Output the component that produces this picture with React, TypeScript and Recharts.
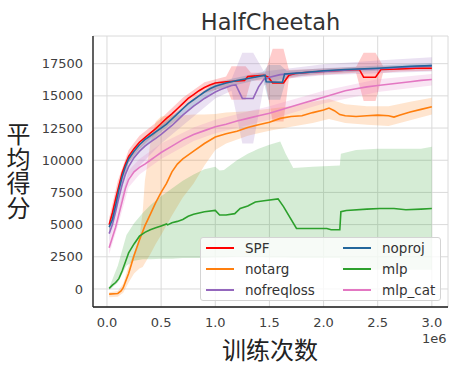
import { ComposedChart, Line, Area, XAxis, YAxis, CartesianGrid } from 'recharts'

// x values are in units of 1e6 steps
const xTicks = [0, 0.5, 1.0, 1.5, 2.0, 2.5, 3.0]
const yTicks = [0, 2500, 5000, 7500, 10000, 12500, 15000, 17500]

const spfX = [0.02, 0.05, 0.08, 0.11, 0.14, 0.17, 0.2, 0.25, 0.3, 0.35, 0.4, 0.45, 0.5, 0.55, 0.6, 0.65, 0.7, 0.75, 0.8, 0.85, 0.9, 0.95, 1.0, 1.1, 1.2, 1.27, 1.3, 1.45, 1.49, 1.53, 1.63, 1.68, 1.75, 1.9, 2.1, 2.33, 2.37, 2.48, 2.53, 2.7, 2.85, 3.0]
const spfY = [5000, 5900, 7000, 8000, 9000, 9700, 10300, 10900, 11400, 11750, 12100, 12450, 12850, 13250, 13600, 14000, 14400, 14800, 15100, 15400, 15650, 15850, 16000, 16100, 16150, 16200, 16500, 16600, 16450, 16000, 16000, 16600, 16750, 16850, 16950, 17050, 16450, 16450, 17050, 17100, 17150, 17150]
const spfBandX = [0.02, 0.1, 0.2, 0.3, 0.5, 0.7, 0.9, 1.1, 1.15, 1.28, 1.33, 1.46, 1.53, 1.63, 1.68, 1.8, 2.3, 2.37, 2.48, 2.55, 2.7, 3.0]
const spfLo = [4500, 7400, 9800, 10900, 12450, 13950, 15200, 15700, 14700, 14700, 16200, 16200, 13000, 13000, 16350, 16550, 16800, 14600, 14600, 16800, 16900, 16950]
const spfHi = [5500, 8400, 10800, 11900, 13250, 14850, 16050, 16500, 17300, 17300, 16800, 16800, 18650, 18650, 17000, 17050, 17250, 18350, 18350, 17300, 17300, 17350]

const notargX = [0.02, 0.1, 0.13, 0.15, 0.2, 0.25, 0.3, 0.35, 0.4, 0.45, 0.5, 0.55, 0.6, 0.65, 0.7, 0.8, 0.9, 1.0, 1.1, 1.2, 1.3, 1.4, 1.5, 1.6, 1.7, 1.8, 1.9, 2.0, 2.05, 2.1, 2.15, 2.2, 2.3, 2.4, 2.5, 2.6, 2.65, 2.7, 2.8, 2.9, 3.0]
const notargY = [-400, -350, -150, 100, 1200, 2600, 3800, 4900, 5800, 6700, 7500, 8200, 9100, 9700, 10100, 10700, 11300, 11800, 12050, 12250, 12550, 12750, 12950, 13250, 13400, 13450, 13700, 13900, 14050, 13850, 13550, 13450, 13400, 13450, 13500, 13450, 13350, 13500, 13750, 13950, 14150]
const notargBandX = [0.02, 0.1, 0.15, 0.2, 0.25, 0.3, 0.33, 0.35, 0.4, 0.45, 0.5, 0.6, 0.7, 0.8, 0.9, 1.0, 1.1, 1.3, 1.5, 1.7, 1.9, 2.05, 2.2, 2.4, 2.6, 2.8, 3.0]
const notargLo = [-650, -600, -300, 500, 1200, 1600, 1700, 2000, 2700, 3500, 4200, 5700, 7100, 8200, 9600, 10800, 11300, 11900, 12300, 12600, 12900, 13200, 12900, 12750, 12650, 13100, 13550]
const notargHi = [-250, -150, 400, 1800, 2800, 4000, 6000, 8400, 11300, 13000, 13400, 13500, 13500, 13550, 13550, 13600, 13700, 13800, 14000, 14200, 14550, 14750, 14350, 14200, 14200, 14550, 14850]

const nofreqX = [0.02, 0.05, 0.08, 0.11, 0.14, 0.17, 0.2, 0.25, 0.3, 0.35, 0.4, 0.45, 0.5, 0.55, 0.6, 0.65, 0.7, 0.75, 0.8, 0.85, 0.9, 0.95, 1.0, 1.05, 1.1, 1.15, 1.19, 1.25, 1.35, 1.4, 1.45, 1.5, 1.6, 1.8, 2.0, 2.3, 2.6, 3.0]
const nofreqY = [4300, 5000, 6000, 7100, 8100, 8900, 9500, 10200, 10700, 11100, 11400, 11700, 12000, 12350, 12700, 13100, 13500, 13850, 14200, 14500, 14800, 15050, 15300, 15500, 15650, 15800, 15850, 14800, 14800, 15700, 16300, 16450, 16650, 16800, 16900, 17050, 17150, 17350]
const nofreqBandX = [0.02, 0.2, 0.5, 1.0, 1.15, 1.25, 1.35, 1.45, 1.6, 2.0, 2.5, 3.0]
const nofreqLo = [3700, 8700, 11300, 14800, 15400, 11300, 11300, 15800, 16300, 16600, 16750, 16900]
const nofreqHi = [4900, 10200, 12700, 15800, 16300, 18350, 18350, 16900, 17050, 17450, 17750, 18000]

const noprojX = [0.02, 0.05, 0.08, 0.11, 0.14, 0.17, 0.2, 0.25, 0.3, 0.35, 0.4, 0.45, 0.5, 0.55, 0.6, 0.65, 0.7, 0.75, 0.8, 0.85, 0.9, 0.95, 1.0, 1.1, 1.2, 1.3, 1.4, 1.46, 1.47, 1.62, 1.64, 1.8, 2.0, 2.2, 2.5, 2.8, 3.0]
const noprojY = [4800, 5400, 6500, 7700, 8700, 9500, 10100, 10700, 11200, 11600, 11900, 12200, 12500, 12800, 13200, 13600, 14000, 14400, 14700, 15000, 15300, 15550, 15750, 16000, 16200, 16350, 16500, 16600, 16100, 16050, 16700, 16800, 16950, 17050, 17150, 17300, 17350]
const noprojBandX = [0.02, 0.2, 0.5, 1.0, 1.44, 1.49, 1.6, 1.66, 2.0, 3.0]
const noprojLo = [4400, 9800, 12200, 15450, 16350, 14700, 14700, 16450, 16750, 17150]
const noprojHi = [5200, 10400, 12800, 16050, 16850, 17400, 17400, 16950, 17150, 17550]

const mlpX = [0.02, 0.05, 0.08, 0.11, 0.14, 0.17, 0.2, 0.25, 0.3, 0.35, 0.4, 0.45, 0.5, 0.55, 0.56, 0.6, 0.65, 0.7, 0.75, 0.8, 0.9, 1.0, 1.04, 1.1, 1.18, 1.23, 1.3, 1.37, 1.45, 1.58, 1.63, 1.75, 1.9, 2.03, 2.07, 2.15, 2.16, 2.21, 2.4, 2.52, 2.65, 2.76, 2.9, 3.0]
const mlpY = [50, 300, 500, 800, 1400, 2100, 2800, 3500, 4100, 4400, 4600, 4750, 4900, 5050, 4980, 5150, 5250, 5400, 5650, 5800, 6000, 6100, 5750, 5750, 5850, 6250, 6450, 6750, 6850, 7000, 6400, 4700, 4700, 4700, 4600, 4600, 6000, 6100, 6200, 6250, 6250, 6150, 6200, 6250]
const mlpBandX = [0.02, 0.1, 0.18, 0.25, 0.33, 0.4, 0.5, 0.6, 0.7, 0.8, 0.9, 1.0, 1.04, 1.08, 1.2, 1.3, 1.4, 1.5, 1.6, 1.65, 1.72, 1.9, 2.15, 2.16, 2.3, 2.5, 2.7, 2.9, 3.0]
const mlpLo = [-100, 500, 1800, 2200, 2300, 2300, 2350, 2350, 2400, 2400, 2400, 2450, 2450, 2450, 2500, 2500, 2500, 2450, 2450, 2450, 2400, 2400, 2400, 1500, 1500, 1500, 1500, 1500, 1500]
const mlpHi = [100, 1800, 4200, 5100, 5900, 6500, 7200, 7800, 8400, 8900, 9300, 9500, 9200, 9250, 10000, 10500, 10900, 11200, 11450, 10500, 9400, 9500, 9600, 10500, 10800, 10900, 10900, 10900, 11050]

const mlpCatX = [0.02, 0.05, 0.08, 0.11, 0.14, 0.17, 0.2, 0.25, 0.3, 0.35, 0.4, 0.45, 0.5, 0.6, 0.7, 0.8, 0.9, 1.0, 1.1, 1.2, 1.3, 1.4, 1.5, 1.6, 1.7, 1.8, 1.9, 2.0, 2.1, 2.2, 2.3, 2.4, 2.5, 2.6, 2.7, 2.8, 2.9, 3.0]
const mlpCatY = [3200, 4000, 4800, 5800, 6800, 7800, 8500, 9100, 9450, 9700, 10000, 10300, 10600, 11100, 11600, 12000, 12300, 12600, 12800, 13050, 13250, 13450, 13650, 13900, 14150, 14400, 14650, 14900, 15150, 15400, 15550, 15700, 15800, 15900, 16000, 16100, 16200, 16270]
const mlpCatBandX = [0.02, 0.1, 0.2, 0.3, 0.5, 0.8, 1.0, 1.5, 2.0, 2.5, 3.0]
const mlpCatLo = [2700, 4900, 7900, 8900, 10100, 11500, 12100, 13150, 14400, 15300, 15800]
const mlpCatHi = [3700, 6000, 9200, 10100, 11300, 12550, 13150, 14200, 15400, 16300, 16700]

const toPts = (xs: number[], ys: number[]) => xs.map((x, i) => ({ x, y: ys[i] }))
const toBand = (xs: number[], lo: number[], hi: number[]) => xs.map((x, i) => ({ x, band: [lo[i], hi[i]] }))

const series = [
  { name: 'SPF', color: '#ff0000', line: toPts(spfX, spfY), band: toBand(spfBandX, spfLo, spfHi) },
  { name: 'notarg', color: '#ff7f0e', line: toPts(notargX, notargY), band: toBand(notargBandX, notargLo, notargHi) },
  { name: 'nofreqloss', color: '#9467bd', line: toPts(nofreqX, nofreqY), band: toBand(nofreqBandX, nofreqLo, nofreqHi) },
  { name: 'noproj', color: '#24679c', line: toPts(noprojX, noprojY), band: toBand(noprojBandX, noprojLo, noprojHi) },
  { name: 'mlp', color: '#2ca02c', line: toPts(mlpX, mlpY), band: toBand(mlpBandX, mlpLo, mlpHi) },
  { name: 'mlp_cat', color: '#e377c2', line: toPts(mlpCatX, mlpCatY), band: toBand(mlpCatBandX, mlpCatLo, mlpCatHi) },
]

const font = 'DejaVu Sans, sans-serif'
const cjk = '"Noto Sans CJK SC", sans-serif'
const tick = { fill: '#404040', fontSize: 13, fontFamily: font }

function LegendBox() {
  const cols = [series.slice(0, 3), series.slice(3)]
  return (
    <div
      style={{
        position: 'absolute',
        left: 200,
        top: 237,
        width: 239,
        height: 62,
        background: 'rgba(255,255,255,0.8)',
        border: '1px solid #d4d4d4',
        borderRadius: 3,
        fontFamily: font,
        fontSize: 13.5,
        color: '#333',
      }}
    >
      {cols.map((col, c) =>
        col.map((s, r) => (
          <div
            key={s.name}
            style={{ position: 'absolute', left: c === 0 ? 5 : 142, top: r * 21 - 1, height: 21, display: 'flex', alignItems: 'center' }}
          >
            <span style={{ width: 28, height: 2, background: s.color, display: 'inline-block', marginRight: 11 }} />
            <span>{s.name}</span>
          </div>
        )),
      )}
    </div>
  )
}

export default function App() {
  return (
    <div style={{ position: 'absolute', left: 0, top: 0, width: 465, height: 365, background: '#fff' }}>
      <div style={{ position: 'absolute', left: 0, width: 541, top: 8, textAlign: 'center', fontFamily: font, fontSize: 22.5, color: '#333', lineHeight: '28px' }}>
        HalfCheetah
      </div>
      <ComposedChart width={465} height={365} margin={{ top: 36, right: 17, bottom: 0, left: 0 }}>
        <CartesianGrid stroke="#dadada" strokeWidth={1} />
        <XAxis
          dataKey="x"
          type="number"
          domain={[-0.129, 3.149]}
          ticks={xTicks}
          tickFormatter={(v: number) => v.toFixed(1)}
          tick={tick}
          tickLine={false}
          tickSize={0}
          tickMargin={11}
          height={58}
          axisLine={{ stroke: '#1a1a1a', strokeWidth: 1.4 }}
          allowDataOverflow
        />
        <YAxis
          type="number"
          domain={[-1400, 19650]}
          ticks={yTicks}
          tick={tick}
          tickLine={false}
          tickSize={0}
          tickMargin={10}
          width={93}
          axisLine={{ stroke: '#262626', strokeWidth: 1.4 }}
          allowDataOverflow
        />
        {series.map((s) => (
          <Area
            key={s.name + '-band'}
            data={s.band}
            dataKey="band"
            type="linear"
            stroke="none"
            fill={s.color}
            fillOpacity={0.2}
            dot={false}
            activeDot={false}
            isAnimationActive={false}
          />
        ))}
        {series.map((s) => (
          <Line
            key={s.name}
            data={s.line}
            dataKey="y"
            type="linear"
            stroke={s.color}
            strokeWidth={1.6}
            dot={false}
            activeDot={false}
            isAnimationActive={false}
          />
        ))}
      </ComposedChart>
      <LegendBox />
      <div style={{ position: 'absolute', left: 422, top: 332, fontFamily: font, fontSize: 13, color: '#404040', lineHeight: '14px' }}>
        1e6
      </div>
      <div style={{ position: 'absolute', left: 222, top: 337, fontFamily: cjk, fontSize: 24, color: '#222', lineHeight: '24px' }}>
        训练次数
      </div>
      <div
        style={{
          position: 'absolute',
          left: 6,
          top: 122,
          fontFamily: cjk,
          fontSize: 24,
          color: '#222',
          lineHeight: '24px',
          letterSpacing: 0.5,
          writingMode: 'vertical-rl',
          textOrientation: 'upright',
        }}
      >
        平均得分
      </div>
    </div>
  )
}
